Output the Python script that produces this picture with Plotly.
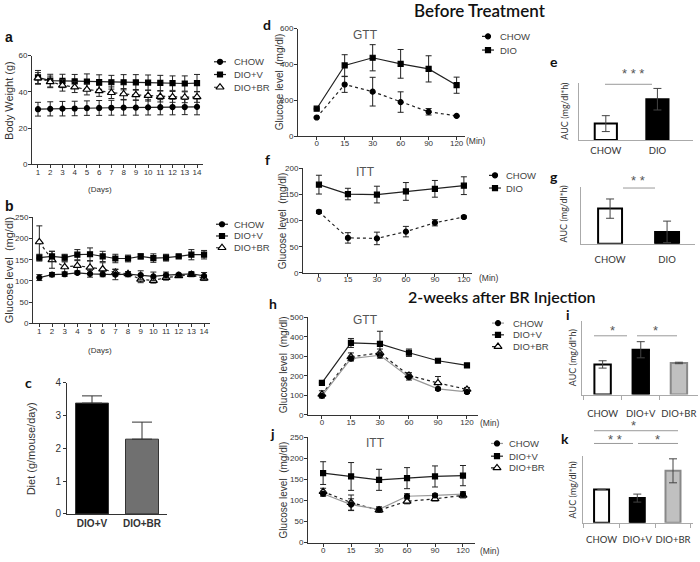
import plotly.graph_objects as go

W, H = 700, 562

# ---------------- data ----------------
days = [1, 2, 3, 4, 5, 6, 7, 8, 9, 10, 11, 12, 13, 14]
day_ticks = ["1", "2", "3", "4", "5", "6", "7", "8", "9", "10", "11", "12", "13", "14"]

# a: body weight (g)
a_chow = [30.4, 30.6, 30.7, 30.8, 31.0, 31.1, 31.2, 31.3, 31.3, 31.4, 31.5, 31.6, 31.6, 31.7]
a_chow_err = [3.8, 3.9, 4.0, 4.0, 4.0, 4.1, 4.1, 4.2, 4.2, 4.2, 4.2, 4.3, 4.2, 4.4]
a_diov = [48.0, 46.2, 46.0, 45.8, 45.7, 45.4, 45.3, 45.3, 45.2, 45.1, 44.9, 44.8, 44.6, 44.8]
a_diov_err = [3.8, 3.5, 3.7, 3.8, 4.2, 4.0, 3.8, 4.2, 4.3, 4.2, 4.2, 4.0, 4.2, 4.8]
a_diobr = [47.6, 45.5, 43.6, 42.6, 41.3, 40.5, 39.5, 38.8, 38.3, 37.9, 37.4, 37.2, 37.0, 37.2]
a_diobr_err = [3.0, 3.2, 3.2, 3.0, 3.0, 3.0, 3.2, 3.0, 3.0, 3.0, 3.0, 3.0, 3.0, 3.0]

# b: glucose level over days (mg/dl)
b_chow = [108, 115, 116, 119, 117, 116, 115, 116, 114, 111, 114, 115, 117, 112]
b_chow_err = [7, 5, 5, 3, 8, 6, 12, 6, 10, 10, 7, 3, 5, 8]
b_diov = [155, 158, 155, 162, 163, 158, 153, 153, 158, 154, 155, 158, 162, 162]
b_diov_err = [8, 12, 8, 12, 15, 12, 10, 8, 6, 10, 8, 3, 12, 10]
b_diobr = [192, 150, 133, 136, 132, 128, 120, 117, 104, 101, 108, 112, 115, 106]
b_diobr_err = [38, 20, 12, 12, 15, 15, 8, 5, 8, 6, 6, 3, 5, 5]

# c: diet
diet_groups = ["DIO+V", "DIO+BR"]
diet = [3.38, 2.28]
diet_err = [0.22, 0.52]

# GTT / ITT time points
times = ["0", "15", "30", "60", "90", "120"]

# d: GTT before treatment
d_chow = [104, 288, 248, 190, 136, 113]
d_chow_err = [3, 44, 80, 57, 18, 3]
d_dio = [153, 394, 437, 403, 375, 284]
d_dio_err = [3, 60, 73, 80, 73, 45]

# f: ITT before treatment
f_chow = [117, 67, 66, 79, 96, 107]
f_chow_err = [3, 10, 12, 10, 6, 2]
f_dio = [169, 151, 150, 156, 161, 167]
f_dio_err = [18, 11, 16, 17, 16, 17]

# h: GTT after BR injection
h_chow = [97, 288, 305, 193, 133, 117]
h_chow_err = [10, 12, 15, 15, 8, 8]
h_diov = [163, 368, 363, 318, 277, 253]
h_diov_err = [4, 23, 65, 19, 6, 9]
h_diobr = [105, 297, 317, 202, 163, 130]
h_diobr_err = [18, 20, 20, 14, 33, 10]

# j: ITT after BR injection
j_chow = [116, 90, 79, 110, 112, 115]
j_chow_err = [6, 14, 6, 6, 4, 6]
j_diov = [165, 157, 149, 153, 157, 159]
j_diov_err = [27, 33, 25, 25, 25, 24]
j_diobr = [121, 95, 77, 98, 104, 112]
j_diobr_err = [8, 18, 5, 6, 5, 6]

# AUC panels (relative units)
auc2_groups = ["CHOW", "DIO"]
e_auc = [29, 72]
e_err = [14, 19]
g_auc = [62, 21]
g_err = [17, 19]
auc3_groups = ["CHOW", "DIO+V", "DIO+BR"]
i_auc = [41, 61, 43]
i_err = [5, 11, 1]
k_auc = [50, 37, 78]
k_err = [0, 6, 18]

# ---------------- helpers ----------------
def px(x):
    return x / W


def py(y):
    return 1 - y / H


ARIAL = "Liberation Sans, Arial, sans-serif"
CAL = "Lato, Open Sans, sans-serif"
TICKFONT = dict(family=ARIAL, size=8, color="#333")

fig = go.Figure()
layout = dict(width=W, height=H, margin=dict(l=0, r=0, t=0, b=0),
              paper_bgcolor="white", plot_bgcolor="rgba(0,0,0,0)", showlegend=False,
              hovermode=False)
annotations = []
shapes = []


def add_axes(n, xd, yd, xkw, ykw):
    sx = "" if n == 1 else str(n)
    base = dict(showgrid=False, zeroline=False, fixedrange=True)
    xa = dict(base, domain=[px(xd[0]), px(xd[1])], anchor="y" + sx, tickangle=0)
    xa.update(xkw)
    ya = dict(base, domain=[py(yd[1]), py(yd[0])], anchor="x" + sx)
    ya.update(ykw)
    layout["xaxis" + sx] = xa
    layout["yaxis" + sx] = ya
    return "x" + sx, "y" + sx


line_axis = dict(showline=True, linecolor="#333", linewidth=1, ticks="outside",
                 ticklen=3, tickcolor="#333", tickfont=TICKFONT)
y_axis = dict(line_axis, ticklabelstandoff=-1)
auc_axis_x = dict(showline=True, linecolor="#aaa", linewidth=1, ticks="",
                  tickfont=dict(family=CAL, size=9.5, color="#333"))
auc_axis_y = dict(showline=True, linecolor="#aaa", linewidth=1, ticks="",
                  showticklabels=False)


def series(xa, ya, x, y, err, symbol, dash, fill="black", lcolor="#222", msize=5):
    fig.add_trace(go.Scatter(
        x=x, y=y, xaxis=xa, yaxis=ya, mode="lines+markers",
        line=dict(color=lcolor, width=1.2, dash=dash),
        marker=dict(symbol=symbol, size=msize, color=fill,
                    line=dict(color="black", width=1.2)),
        error_y=dict(type="data", array=err, color="#222", thickness=1, width=3),
        cliponaxis=False))


def text(x, y, s, size=9, family=ARIAL, color="#333", angle=0, weight="normal",
         xanchor="center"):
    annotations.append(dict(x=px(x), y=py(y), xref="paper", yref="paper", text=s,
                            showarrow=False, textangle=angle, xanchor=xanchor,
                            yanchor="middle",
                            font=dict(size=size, family=family, color=color,
                                      weight=weight)))


def hline(x0, x1, y, color="#999"):
    shapes.append(dict(type="line", xref="paper", yref="paper", x0=px(x0), x1=px(x1),
                       y0=py(y), y1=py(y), line=dict(color=color, width=1)))


# ---------------- panel a ----------------
xa, ya = add_axes(1, (32, 203), (50.7, 161.7),
                  dict(line_axis, range=[0.51, 14.49], tickvals=days, ticktext=day_ticks,
                       ticklabelstandoff=-3),
                  dict(y_axis, range=[0, 60], tickvals=[0, 20, 40, 60]))
series(xa, ya, days, a_chow, a_chow_err, "circle", "solid")
series(xa, ya, days, a_diov, a_diov_err, "square", "solid")
series(xa, ya, days, a_diobr, a_diobr_err, "triangle-up", "dot", fill="white", msize=7)

# ---------------- panel b ----------------
xa, ya = add_axes(2, (33, 210), (216, 324.3),
                  dict(line_axis, range=[0.5, 14.47], tickvals=days, ticktext=day_ticks,
                       ticklabelstandoff=-3),
                  dict(y_axis, range=[0, 250], tickvals=[0, 50, 100, 150, 200, 250]))
series(xa, ya, days, b_diobr, b_diobr_err, "triangle-up", "dot", fill="white", msize=7)
series(xa, ya, days, b_chow, b_chow_err, "circle", "solid")
series(xa, ya, days, b_diov, b_diov_err, "square", "solid")

# ---------------- panel c ----------------
xa, ya = add_axes(3, (67, 167), (385, 519),
                  dict(line_axis, type="category", range=[-0.5, 1.5], ticks="",
                       tickfont=dict(family=ARIAL, size=10, color="#333", weight="bold")),
                  dict(line_axis, range=[0, 4], tickvals=[0, 1, 2, 3, 4],
                       tickfont=dict(family=ARIAL, size=10, color="#333")))
fig.add_trace(go.Bar(x=diet_groups, y=diet, xaxis=xa, yaxis=ya, width=0.66,
                     marker=dict(color=["#000000", "#707070"],
                                 line=dict(color="#333", width=1)),
                     error_y=dict(type="data", array=diet_err,
                                  arrayminus=[0, 0], color="#333", thickness=1, width=10)))

# ---------------- panel d ----------------
xa, ya = add_axes(4, (298, 465), (23, 133),
                  dict(line_axis, type="category", range=[-0.668, 5.3], ticklabelstandoff=-4),
                  dict(y_axis, range=[0, 600], tickvals=[0, 200, 400, 600]))
series(xa, ya, times, d_chow, d_chow_err, "circle", "dot")
series(xa, ya, times, d_dio, d_dio_err, "square", "solid")

# ---------------- AUC panels ----------------
def auc_panel(n, xd, yd, xr, groups, vals, errs, colors, lines, width, standoff,
              boundary_ticks=False):
    xkw = dict(auc_axis_x, type="category", range=xr, ticklabelstandoff=standoff)
    if boundary_ticks:
        xkw.update(ticks="outside", ticklen=4, tickcolor="#aaa", tickson="boundaries")
    xa, ya = add_axes(n, xd, yd, xkw, dict(auc_axis_y, range=[0, 100]))
    fig.add_trace(go.Bar(x=groups, y=vals, xaxis=xa, yaxis=ya, width=width,
                         marker=dict(color=colors, line=dict(color=lines, width=2)),
                         error_y=dict(type="data", array=errs, color="#444",
                                      thickness=1, width=4)))


auc_panel(5, (579, 693), (79, 137), [-0.52, 1.69], auc2_groups, e_auc, e_err,
          ["white", "black"], ["black", "black"], 0.43, 2)

# ---------------- panel f ----------------
xa, ya = add_axes(6, (303, 472), (166, 272.7),
                  dict(line_axis, type="category", range=[-0.55, 5.28], ticklabelstandoff=-4),
                  dict(y_axis, range=[0, 200], tickvals=[0, 50, 100, 150, 200]))
series(xa, ya, times, f_chow, f_chow_err, "circle", "dot")
series(xa, ya, times, f_dio, f_dio_err, "square", "solid")

# ---------------- panel g ----------------
auc_panel(7, (581, 695), (185, 243), [-0.51, 1.49], auc2_groups, g_auc, g_err,
          ["white", "black"], ["black", "black"], 0.42, 7)

# ---------------- panel h ----------------
xa, ya = add_axes(8, (308, 478), (318, 417.7),
                  dict(line_axis, type="category", range=[-0.48, 5.38], ticklabelstandoff=-3),
                  dict(y_axis, range=[0, 500], tickvals=[0, 100, 200, 300, 400, 500]))
series(xa, ya, times, h_diobr, h_diobr_err, "triangle-up", "dot", fill="white", msize=7)
series(xa, ya, times, h_chow, h_chow_err, "circle", "solid", lcolor="#999")
series(xa, ya, times, h_diov, h_diov_err, "square", "solid")

# ---------------- panel i ----------------
auc_panel(9, (582, 698), (322, 397), [-0.54, 2.5], auc3_groups, i_auc, i_err,
          ["white", "black", "#c0c0c0"], ["black", "black", "#888"], 0.43, 10,
          boundary_ticks=True)

# ---------------- panel j ----------------
xa, ya = add_axes(10, (308, 475), (440.7, 548.3),
                  dict(line_axis, type="category", range=[-0.54, 5.43], ticklabelstandoff=-3),
                  dict(y_axis, range=[0, 250], tickvals=[0, 50, 100, 150, 200, 250]))
series(xa, ya, times, j_diobr, j_diobr_err, "triangle-up", "dot", fill="white", msize=7)
series(xa, ya, times, j_chow, j_chow_err, "circle", "solid", lcolor="#999")
series(xa, ya, times, j_diov, j_diov_err, "square", "solid")

# ---------------- panel k ----------------
auc_panel(11, (583, 693), (460, 528), [-0.52, 2.56], auc3_groups, k_auc, k_err,
          ["white", "black", "#c0c0c0"], ["black", "black", "#888"], 0.42, 8,
          boundary_ticks=True)

# ---------------- legends (drawn on an overlay axis in pixel units) ----------------
layout["xaxis12"] = dict(domain=[0, 1], range=[0, W], visible=False, fixedrange=True,
                         anchor="y12")
layout["yaxis12"] = dict(domain=[0, 1], range=[H, 0], visible=False, fixedrange=True,
                         anchor="x12")

STY = {
    "CHOW": ("circle", "solid", "black", "#222"),
    "CHOW_dot": ("circle", "dot", "black", "#222"),
    "CHOW_gray": ("circle", "solid", "black", "#999"),
    "DIO+V": ("square", "solid", "black", "#222"),
    "DIO": ("square", "solid", "black", "#222"),
    "DIO+BR": ("triangle-up", "dot", "white", "#222"),
}


def legend(mx, tx, ys, entries):
    for yy, (label, key) in zip(ys, entries):
        sym, dash, fill, lc = STY[key]
        fig.add_trace(go.Scatter(x=[mx - 6, mx + 6], y=[yy, yy], xaxis="x12", yaxis="y12",
                                 mode="lines", line=dict(color=lc, width=1.2, dash=dash)))
        fig.add_trace(go.Scatter(x=[mx], y=[yy], xaxis="x12", yaxis="y12", mode="markers",
                                 marker=dict(symbol=sym, size=7 if sym.startswith("tri") else 5,
                                             color=fill, line=dict(color="black", width=1.2))))
        text(tx, yy, label, size=9.5, color="#444", xanchor="left")


legend(220, 232, [57, 70, 83], [("CHOW", "CHOW"), ("DIO+V", "DIO+V"), ("DIO+BR", "DIO+BR")])
legend(222, 232, [223, 235, 247], [("CHOW", "CHOW"), ("DIO+V", "DIO+V"), ("DIO+BR", "DIO+BR")])
legend(488, 498, [31, 45], [("CHOW", "CHOW_dot"), ("DIO", "DIO")])
legend(495, 504, [173, 186], [("CHOW", "CHOW_dot"), ("DIO", "DIO")])
legend(498, 511, [324, 336, 348], [("CHOW", "CHOW_gray"), ("DIO+V", "DIO+V"), ("DIO+BR", "DIO+BR")])
legend(497, 507, [447, 460, 472], [("CHOW", "CHOW_gray"), ("DIO+V", "DIO+V"), ("DIO+BR", "DIO+BR")])

# ---------------- titles, labels ----------------
text(480, 5, "Before Treatment", size=17, family=CAL, color="#111", weight=600)
text(502, 297, "2-weeks after BR Injection", size=16, family=CAL, color="#111", weight=600)

for lx, ly, s, fam in [(9, 32, "a", ARIAL), (9, 204, "b", ARIAL), (28, 385, "c", CAL),
                       (267, 19, "d", CAL), (554, 57, "e", CAL), (267, 157, "f", CAL),
                       (554, 174, "g", CAL), (273, 304, "h", CAL), (568, 315, "i", CAL),
                       (272, 437, "j", CAL), (565, 442, "k", CAL)]:
    text(lx, ly, s, size=14, family=fam, color="#111", weight="bold")

text(9, 97, "Body Weight (g)", size=11, angle=-90)
text(9, 270, "Glucose level  (mg/dl)", size=11, angle=-90)
text(31, 452, "Diet (g/mouse/day)", size=11, angle=-90)
text(279, 78, "Glucose level  (mg/dl)", size=10, angle=-90)
text(282, 220, "Glucose level  (mg/dl)", size=10, angle=-90)
text(283, 367, "Glucose level  (mg/dl)", size=10, angle=-90)
text(283, 495, "Glucose level  (mg/dl)", size=10, angle=-90)
for ax_x, ax_y in [(565, 108), (563, 213), (572, 360), (572, 495)]:
    text(ax_x, ax_y, "AUC (mg/dl*h)", size=9, family=CAL, angle=-90)

text(100, 188, "(Days)", size=8)
text(100, 352, "(Days)", size=8)
text(476, 138, "(Min)", size=8.5)
text(489, 278, "(Min)", size=8.5)
text(490, 426, "(Min)", size=8.5)
text(490, 557, "(Min)", size=8.5)

text(365, 30, "GTT", size=12, color="#555")
text(365, 170, "ITT", size=12, color="#555")
text(365, 321, "GTT", size=12, color="#555")
text(375, 447, "ITT", size=12, color="#555")

# significance marks
hline(605, 652, 80)
text(633, 69, "* * *", size=13, color="#555")
hline(623, 655, 186)
text(638, 178, "* *", size=13, color="#555")
hline(594, 627, 337)
hline(637, 677, 337)
text(612, 332, "*", size=13, color="#555")
text(655, 332, "*", size=13, color="#555")
hline(594, 678, 434)
text(633, 429, "*", size=13, color="#555")
hline(594, 633, 447)
hline(638, 678, 447)
text(615, 443, "* *", size=13, color="#555")
text(657, 443, "*", size=13, color="#555")

layout["annotations"] = annotations
layout["shapes"] = shapes
fig.update_layout(**layout)
fig.write_html("out.html", config={"displayModeBar": False},
               post_script="document.body.style.margin='0px';document.body.style.padding='0px';")
